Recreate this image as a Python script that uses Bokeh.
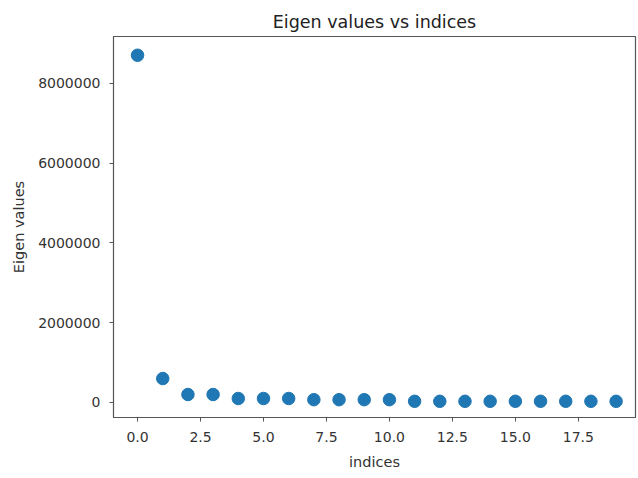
from bokeh.plotting import figure
from bokeh.models import FixedTicker, PrintfTickFormatter, NumeralTickFormatter, Range1d
from bokeh.embed import file_html
from bokeh.resources import INLINE

indices = list(range(20))
eigen_values = [8700000, 600000, 200000, 200000, 100000, 100000, 100000,
                70000, 70000, 70000, 70000, 30000, 30000, 30000, 30000,
                30000, 30000, 30000, 30000, 30000]
x_ticks = [0, 2.5, 5, 7.5, 10, 12.5, 15, 17.5]
y_ticks = [0, 2000000, 4000000, 6000000, 8000000]

FONT = "DejaVu Sans"
TXT = "#333333"

p = figure(width=638, height=478, output_backend="svg", toolbar_location=None,
           title="Eigen values vs indices",
           x_range=Range1d(-0.955, 19.77), y_range=Range1d(-376000, 9170000),
           min_border_left=113, min_border_right=3, min_border_top=36,
           min_border_bottom=61)

p.scatter(indices, eigen_values, size=12.5, color="#1f77b4", line_color="#1f77b4")

p.title.align = "center"
p.title.text_font = FONT
p.title.text_font_size = "17.5px"
p.title.text_font_style = "normal"
p.title.text_color = "#222222"
p.title.standoff = 10

p.xgrid.visible = False
p.ygrid.visible = False
p.outline_line_color = "#555555"
p.outline_line_width = 1.2

for ax in (p.xaxis[0], p.yaxis[0]):
    ax.axis_line_color = "#555555"
    ax.major_tick_line_color = "#555555"
    ax.major_tick_out = 4
    ax.major_tick_in = 0
    ax.minor_tick_line_color = None
    ax.major_label_text_font = FONT
    ax.major_label_text_font_size = "14px"
    ax.major_label_text_color = TXT
    ax.axis_label_text_font = FONT
    ax.axis_label_text_font_size = "14.5px"
    ax.axis_label_text_font_style = "normal"
    ax.axis_label_text_color = TXT

p.xaxis.ticker = FixedTicker(ticks=x_ticks)
p.xaxis.formatter = PrintfTickFormatter(format="%.1f")
p.yaxis.ticker = FixedTicker(ticks=y_ticks)
p.yaxis.formatter = NumeralTickFormatter(format="0")
p.xaxis.axis_label = "indices"
p.yaxis.axis_label = "Eigen values"
p.xaxis.major_label_standoff = 10
p.yaxis.major_label_standoff = 9
p.xaxis.axis_label_standoff = 9
p.yaxis.axis_label_standoff = 8

open("out.html", "w").write(file_html(p, INLINE))
